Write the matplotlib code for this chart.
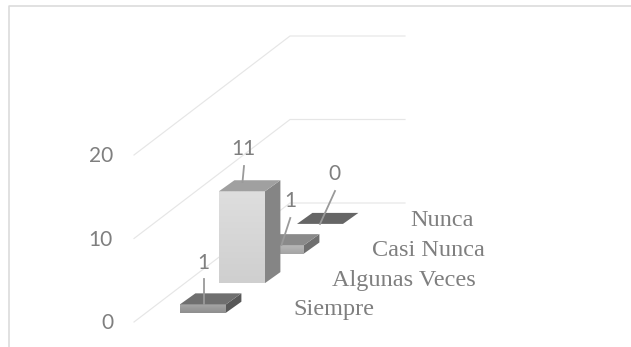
import numpy as np
import matplotlib
matplotlib.use("Agg")
import matplotlib.pyplot as plt
from matplotlib.patches import Polygon

categories = ["Siempre", "Algunas Veces", "Casi Nunca", "Nunca"]
values = [1, 11, 1, 0]
value_ticks = [0, 10, 20]

W, H = 631, 347
fig = plt.figure(figsize=(W / 100, H / 100), dpi=100, facecolor="white")
ax = fig.add_axes([0, 0, 1, 1])
ax.set_xlim(0, W)
ax.set_ylim(H, 0)
ax.axis("off")

# oblique projection of (category index, value) to the canvas
X0, Y0, DX, DY = 180.0, 312.7, 39.0, -29.6
UNIT = 8.35
BW, OX, OY = 46.0, 15.4, -11.0

# frame
ax.plot([9, 9, W], [H, 6, 6], color="#d9d9d9", lw=1.1, solid_capstyle="butt")

# walls + gridlines
for v in value_ticks:
    off = UNIT * v
    ax.plot([134, 290, 405], [322 - off, 203 - off, 203 - off],
            color="#e6e6e6", lw=0.85, zorder=1)
    ax.text(113, 323 - off, str(v), ha="right", va="center", fontsize=15,
            family="Lato", color="#7f7f7f", zorder=2)

styles = [
    dict(front=("#a6a6a6", "#8e8e8e"), top="#6f6f6f", side="#585858"),
    dict(front=("#dedede", "#cfcfcf"), top="#a0a0a0", side="#858585"),
    dict(front=("#b8b8b8", "#a4a4a4"), top="#8a8a8a", side="#6f6f6f"),
    dict(front=("#888888", "#777777"), top="#666666", side="#555555"),
]
label_pos = [(203.5, 263), (243.5, 149), (290, 201), (334, 174)]
leaders = [((203.5, 279), (203.5, 304)), ((244, 166), (242.5, 182)),
           ((290.3, 218), (281.5, 245)), ((335, 191), (320, 224))]

for i in range(len(categories) - 1, -1, -1):
    z = 10 + (len(categories) - i) * 2
    x = X0 + DX * i
    y = Y0 + DY * i
    h = values[i] * UNIT
    st = styles[i]
    if h > 0:
        grad = np.linspace(0, 1, 64)[:, None]
        c0 = np.array(matplotlib.colors.to_rgb(st["front"][0]))
        c1 = np.array(matplotlib.colors.to_rgb(st["front"][1]))
        img = c0[None, None, :] * (1 - grad[..., None]) + c1[None, None, :] * grad[..., None]
        ax.imshow(img, extent=(x, x + BW, y, y - h), aspect="auto", zorder=z,
                  interpolation="bilinear")
        ax.add_patch(Polygon([(x + BW, y), (x + BW + OX, y + OY),
                              (x + BW + OX, y - h + OY), (x + BW, y - h)],
                             fc=st["side"], ec="none", zorder=z))
    ax.add_patch(Polygon([(x, y - h), (x + BW, y - h),
                          (x + BW + OX, y - h + OY), (x + OX, y - h + OY)],
                         fc=st["top"], ec="none", zorder=z))
    (a, b), (c, d) = leaders[i]
    ax.plot([a, c], [b, d], color="#9a9a9a", lw=1.3, zorder=z + 1)
    ax.text(*label_pos[i], str(values[i]), ha="center", va="center",
            fontsize=15, family="Lato", color="#7f7f7f", zorder=30)
    ax.text(x + 113.5, y - 3, categories[i], ha="left", va="center", fontsize=17.5,
            family="Liberation Serif", color="#7f7f7f", zorder=30)

ax.set_xlim(0, W)
ax.set_ylim(H, 0)
fig.savefig("out.png", dpi=100)
